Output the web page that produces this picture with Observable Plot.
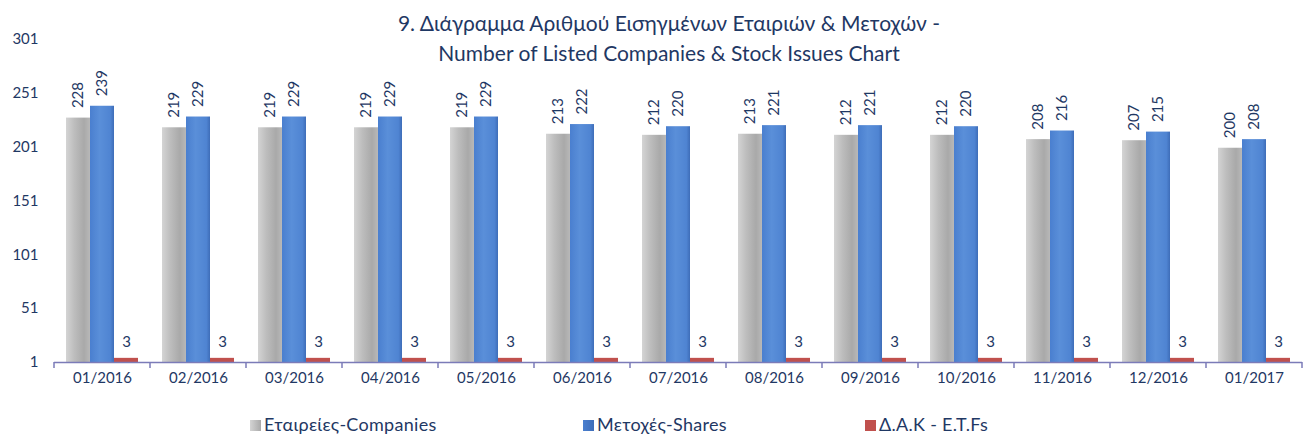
<!DOCTYPE html>
<html>
<head>
<meta charset="utf-8">
<script src="https://cdn.jsdelivr.net/npm/d3@7"></script>
<script src="https://cdn.jsdelivr.net/npm/@observablehq/plot@0.6"></script>
<style>
  html, body { margin: 0; padding: 0; background: #fff; }
  #wrap { position: relative; width: 1306px; height: 437px; font-family: Lato, "Open Sans", sans-serif; color: #1f3864; }
  #title { position: absolute; left: 269px; width: 800px; top: 8px; text-align: center; font-size: 21px; line-height: 30px; z-index: 2; }
  #chart { position: absolute; left: 0; top: 0; }
  .leg { position: absolute; top: 413px; font-size: 18px; letter-spacing: 0.3px; line-height: 22px; white-space: nowrap; }
  .sw { display: inline-block; width: 11px; height: 11px; margin-right: 3px; vertical-align: 0px; }
</style>
</head>
<body>
<div id="wrap">
  <div id="title"><div>9. Διάγραμμα Αριθμού Εισηγμένων Εταιριών &amp; Μετοχών -</div><div>Number of Listed Companies &amp; Stock Issues Chart</div></div>
  <div id="chart"></div>
  <div id="legend"></div>
</div>
<script>
const months = ["01/2016","02/2016","03/2016","04/2016","05/2016","06/2016","07/2016","08/2016","09/2016","10/2016","11/2016","12/2016","01/2017"];
const companies = [228, 219, 219, 219, 219, 213, 212, 213, 212, 212, 208, 207, 200];
const shares = [239, 229, 229, 229, 229, 222, 220, 221, 221, 220, 216, 215, 208];
const etfs = [3, 3, 3, 3, 3, 3, 3, 3, 3, 3, 3, 3, 3];
const seriesKeys = ["companies", "shares", "etfs"];
const seriesNames = ["Εταιρείες-Companies", "Μετοχές-Shares", "Δ.Α.Κ - E.T.Fs"];
const yTicks = [1, 51, 101, 151, 201, 251, 301];

const data = months.flatMap((m, i) => [
  {month: m, series: "companies", value: companies[i]},
  {month: m, series: "shares", value: shares[i]},
  {month: m, series: "etfs", value: etfs[i]}
]);

const navy = "#1f3864";

const plot = Plot.plot({
  width: 1306,
  height: 400,
  marginLeft: 53,
  marginRight: 4,
  marginTop: 39,
  marginBottom: 38,
  style: {fontFamily: "Lato, 'Open Sans', sans-serif", fontSize: "15px", color: navy, background: "transparent"},
  facet: {data, x: "month"},
  fx: {domain: months, paddingInner: 0, paddingOuter: 0, axis: "bottom", label: null, tickSize: 0, tickPadding: 10},
  x: {domain: seriesKeys, paddingInner: 0, paddingOuter: 0.5, axis: null},
  y: {domain: [1, 301], ticks: yTicks, tickSize: 0, tickPadding: 16, label: null, tickFormat: d => String(d)},
  marks: [
    Plot.barY(data, {filter: d => d.series === "companies", x: "series", y1: 1, y2: "value", fill: "url(#gGrey)"}),
    Plot.barY(data, {filter: d => d.series === "shares", x: "series", y1: 1, y2: "value", fill: "url(#gBlue)"}),
    Plot.barY(data, {filter: d => d.series === "etfs", x: "series", y1: 1, y2: "value", fill: "#c0504d", insetTop: -2}),
    Plot.ruleY([1], {stroke: "#7b7bb8", strokeWidth: 1.5}),
    Plot.text(data, {filter: d => d.series !== "etfs", x: "series", y: "value", text: d => String(d.value), rotate: -90, textAnchor: "start", lineAnchor: "middle", dy: -10, fill: navy, fontSize: 15}),
    Plot.text(data, {filter: d => d.series === "etfs", x: "series", y: "value", text: d => String(d.value), lineAnchor: "bottom", dy: -13, fill: navy, fontSize: 15})
  ]
});

// gradients for bar fills
const svg = d3.select(plot.tagName.toLowerCase() === "svg" ? plot : plot.querySelector("svg"));
const defs = svg.insert("defs", ":first-child");
const g1 = defs.append("linearGradient").attr("id", "gGrey").attr("x1", 0).attr("x2", 1).attr("y1", 0).attr("y2", 0);
[["0%", "#d4d4d4"], ["35%", "#bdbdbd"], ["75%", "#a9a9a9"], ["100%", "#b8b8b8"]].forEach(([o, c]) => g1.append("stop").attr("offset", o).attr("stop-color", c));
const g2 = defs.append("linearGradient").attr("id", "gBlue").attr("x1", 0).attr("x2", 1).attr("y1", 0).attr("y2", 0);
[["0%", "#4a7fcf"], ["40%", "#5a8fd9"], ["85%", "#4f84d2"], ["100%", "#3e6db8"]].forEach(([o, c]) => g2.append("stop").attr("offset", o).attr("stop-color", c));

// boundary tick marks on the category axis
const fx = plot.scale("fx");
const yS = plot.scale("y");
const y0 = yS.apply(1);
const bw = fx.bandwidth;
const edges = months.map(m => fx.apply(m)).concat([fx.apply(months[months.length - 1]) + bw]);
svg.append("g").selectAll("line").data(edges).join("line")
  .attr("x1", d => d).attr("x2", d => d).attr("y1", y0).attr("y2", y0 + 6)
  .attr("stroke", "#7b7bb8").attr("stroke-width", 1.5);

document.getElementById("chart").appendChild(plot);

// legend
const legColors = ["linear-gradient(90deg,#d4d4d4,#a9a9a9)", "linear-gradient(90deg,#4a7fcf,#3e6db8)", "#c0504d"];
const legLeft = [250, 583, 865];
const leg = d3.select("#legend");
seriesNames.forEach((n, i) => {
  const item = leg.append("div").attr("class", "leg").style("left", legLeft[i] + "px");
  item.append("span").attr("class", "sw").style("background", legColors[i]);
  item.append("span").text(n);
});
</script>
</body>
</html>
